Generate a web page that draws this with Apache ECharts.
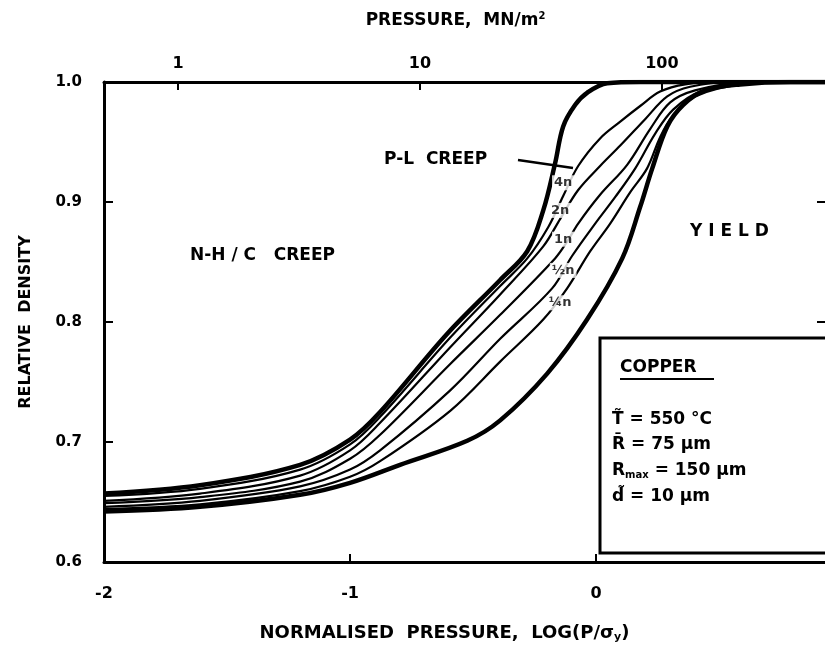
<!DOCTYPE html>
<html>
<head>
<meta charset="utf-8">
<script src="https://cdn.jsdelivr.net/npm/echarts@6/dist/echarts.min.js"></script>
<style>
html,body{margin:0;padding:0;background:#fff;}
#chart{width:825px;height:648px;}
</style>
</head>
<body>
<div id="chart"></div>
<script>
// normalised pressure log(P/sigma_y) and relative density
var nhcX = [-2.0,-1.61,-1.203,-1.0,-0.878,-0.606,-0.39,-0.28,-0.215,-0.167,-0.134,-0.085,-0.037,0.045,0.179,0.93];
var nhcY = [0.657,0.664,0.681,0.702,0.725,0.790,0.835,0.859,0.893,0.932,0.963,0.981,0.991,0.999,1.0,1.0];

var pl4X = [-2.0,-1.61,-1.203,-1.0,-0.878,-0.593,-0.39,-0.28,-0.195,-0.134,-0.073,0.016,0.098,0.179,0.26,0.362,0.504,0.93];
var pl4Y = [0.655,0.661,0.677,0.698,0.721,0.787,0.830,0.853,0.879,0.905,0.930,0.953,0.967,0.980,0.992,0.998,1.0,1.0];

var pl2X = [-2.0,-1.61,-1.203,-1.0,-0.878,-0.593,-0.39,-0.215,-0.146,-0.073,0.016,0.098,0.199,0.289,0.382,0.545,0.93];
var pl2Y = [0.651,0.657,0.672,0.693,0.716,0.779,0.823,0.863,0.886,0.910,0.930,0.947,0.969,0.988,0.996,1.0,1.0];

var pl1X = [-2.0,-1.61,-1.203,-1.0,-0.878,-0.593,-0.39,-0.167,-0.118,-0.073,0.016,0.126,0.22,0.301,0.402,0.585,0.93];
var pl1Y = [0.649,0.654,0.667,0.686,0.706,0.765,0.806,0.853,0.867,0.882,0.906,0.931,0.961,0.983,0.993,0.999,1.0];

var plHalfX = [-2.0,-1.61,-1.203,-1.0,-0.878,-0.593,-0.39,-0.179,-0.098,-0.004,0.077,0.159,0.240,0.313,0.423,0.626,0.93];
var plHalfY = [0.646,0.651,0.663,0.677,0.693,0.743,0.786,0.828,0.855,0.882,0.904,0.928,0.957,0.977,0.992,0.999,1.0];

var plQuarterX = [-2.0,-1.61,-1.203,-1.0,-0.878,-0.593,-0.39,-0.215,-0.118,-0.024,0.057,0.138,0.207,0.260,0.309,0.402,0.585,0.748,0.93];
var plQuarterY = [0.644,0.648,0.659,0.671,0.684,0.726,0.767,0.802,0.828,0.859,0.882,0.908,0.928,0.954,0.971,0.988,0.998,1.0,1.0];

var yieldX = [-2.0,-1.61,-1.203,-1.0,-0.797,-0.524,-0.39,-0.199,-0.037,0.106,0.179,0.228,0.289,0.354,0.443,0.585,0.789,0.93];
var yieldY = [0.642,0.646,0.656,0.666,0.681,0.701,0.718,0.757,0.802,0.853,0.896,0.928,0.963,0.981,0.993,0.998,1.0,1.0];

// creep exponent labels sitting on the P-L curves
var curveNames = ['4n','2n','1n','½n','¼n'];
var curveLabelX = [-0.134,-0.146,-0.134,-0.134,-0.146];
var curveLabelY = [0.916,0.893,0.869,0.843,0.816];

var bottomTicks = [-2,-1,0];
var topTicks = [0,1,2];   // log10 of pressure in MN/m2
var densityTicks = [0.6,0.7,0.8,0.9,1.0];
var rightTicks = [0.8,0.9];

var font = '"DejaVu Sans", sans-serif';

function pairs(xs, ys) {
	var out = [];
	for (var i = 0; i < xs.length; i++) {
		out.push([xs[i], ys[i]]);
	}
	return out;
}

function curve(name, xs, ys, width) {
	return {
		name: name,
		type: 'line',
		data: pairs(xs, ys),
		showSymbol: false,
		smooth: 0.35,
		lineStyle: {color: '#000', width: width},
		z: 3
	};
}

var myChart = echarts.init(document.getElementById('chart'));

var option = {
	animation: false,
	backgroundColor: '#fff',
	grid: {left: 104, right: 0, top: 82, bottom: 75},
	xAxis: [
		{
			type: 'value',
			position: 'bottom',
			min: -2,
			max: 0.93,
			interval: 1,
			name: '{a|NORMALISED  PRESSURE,  LOG(P/σ}{s|y}{a|)}',
			nameLocation: 'middle',
			nameGap: 62,
			nameTextStyle: {
				padding: [0, 40, 0, 0],
				rich: {
					a: {fontFamily: font, fontWeight: 'bold', fontSize: 18, color: '#000'},
					s: {fontFamily: font, fontWeight: 'bold', fontSize: 11, color: '#000', padding: [8, 0, 0, 0]}
				}
			},
			axisLine: {show: true, onZero: false, lineStyle: {color: '#000', width: 3}},
			axisTick: {show: true, inside: true, length: 8, lineStyle: {color: '#000', width: 2}, customValues: bottomTicks},
			axisLabel: {
				customValues: bottomTicks,
				margin: 24,
				fontFamily: font, fontWeight: 'bold', fontSize: 16, color: '#000',
				formatter: function (v) {
					if (Math.abs(v - Math.round(v)) > 1e-6) return '';
					return String(Math.round(v));
				}
			},
			splitLine: {show: false}
		},
		{
			type: 'value',
			position: 'top',
			min: -0.306,
			max: 2.674,
			name: '{a|PRESSURE,  MN/m}{p|2}',
			nameLocation: 'middle',
			nameGap: 52,
			nameTextStyle: {
				padding: [0, 18, 0, 0],
				rich: {
					a: {fontFamily: font, fontWeight: 'bold', fontSize: 17, color: '#000'},
					p: {fontFamily: font, fontWeight: 'bold', fontSize: 10, color: '#000', padding: [0, 0, 9, 0]}
				}
			},
			axisLine: {show: true, onZero: false, lineStyle: {color: '#000', width: 3}},
			axisTick: {show: true, inside: true, length: 8, lineStyle: {color: '#000', width: 2}, customValues: topTicks},
			axisLabel: {
				customValues: topTicks,
				margin: 10,
				fontFamily: font, fontWeight: 'bold', fontSize: 16, color: '#000',
				formatter: function (v) {
					if (Math.abs(v - Math.round(v)) > 1e-6) return '';
					return String(Math.pow(10, Math.round(v)));
				}
			},
			splitLine: {show: false}
		}
	],
	yAxis: [
		{
			type: 'value',
			min: 0.6,
			max: 1.0,
			interval: 0.1,
			name: 'RELATIVE  DENSITY',
			nameLocation: 'middle',
			nameGap: 70,
			nameRotate: 90,
			nameTextStyle: {fontFamily: font, fontWeight: 'bold', fontSize: 16, color: '#000'},
			axisLine: {show: true, onZero: false, lineStyle: {color: '#000', width: 3}},
			axisTick: {show: true, inside: true, length: 9, lineStyle: {color: '#000', width: 2}, customValues: densityTicks},
			axisLabel: {
				customValues: densityTicks,
				margin: 22,
				fontFamily: font, fontWeight: 'bold', fontSize: 15, color: '#000',
				formatter: function (v) { return v.toFixed(1); }
			},
			splitLine: {show: false}
		},
		{
			type: 'value',
			position: 'right',
			min: 0.6,
			max: 1.0,
			axisLine: {show: false, onZero: false},
			axisTick: {show: true, inside: true, length: 8, lineStyle: {color: '#000', width: 2}, customValues: rightTicks},
			axisLabel: {show: false},
			splitLine: {show: false}
		}
	],
	series: [
		curve('N-H/C creep', nhcX, nhcY, 4.5),
		curve('4n', pl4X, pl4Y, 2.2),
		curve('2n', pl2X, pl2Y, 2.2),
		curve('1n', pl1X, pl1Y, 2.2),
		curve('½n', plHalfX, plHalfY, 2.2),
		curve('¼n', plQuarterX, plQuarterY, 2.2),
		curve('yield', yieldX, yieldY, 4.5),
		{
			name: 'labels',
			type: 'scatter',
			z: 10,
			symbolSize: 2,
			itemStyle: {color: 'rgba(0,0,0,0)'},
			data: curveNames.map(function (n, i) {
				return {name: n, value: [curveLabelX[i], curveLabelY[i]]};
			}),
			label: {
				show: true,
				position: 'inside',
				formatter: '{b}',
				backgroundColor: '#fff',
				padding: [1, 2],
				fontFamily: font, fontWeight: 'bold', fontSize: 13, color: '#000'
			},
			labelLayout: {hideOverlap: false}
		}
	],
	graphic: [
		{type: 'text', x: 384, y: 160, z: 20, style: {text: 'P-L  CREEP', font: 'bold 17px ' + font, fill: '#000', verticalAlign: 'middle'}},
		{type: 'line', z: 20, shape: {x1: 518, y1: 160, x2: 573, y2: 168}, style: {stroke: '#000', lineWidth: 2.5}},
		{type: 'text', x: 190, y: 256, z: 20, style: {text: 'N-H / C   CREEP', font: 'bold 17px ' + font, fill: '#000', verticalAlign: 'middle'}},
		{type: 'text', x: 690, y: 232, z: 20, style: {text: 'Y I E L D', font: 'bold 17px ' + font, fill: '#000', verticalAlign: 'middle'}},
		{type: 'rect', z: 30, shape: {x: 600, y: 338, width: 240, height: 215}, style: {fill: '#fff', stroke: '#000', lineWidth: 3}},
		{type: 'text', x: 620, y: 368, z: 31, style: {text: 'COPPER', font: 'bold 17px ' + font, fill: '#000', verticalAlign: 'middle'}},
		{type: 'line', z: 31, shape: {x1: 620, y1: 379, x2: 714, y2: 379}, style: {stroke: '#000', lineWidth: 2}},
		{type: 'text', x: 612, y: 420, z: 31, style: {text: 'T\u0303 = 550 °C', font: 'bold 17px ' + font, fill: '#000', verticalAlign: 'middle'}},
		{type: 'text', x: 612, y: 445, z: 31, style: {text: 'R\u0304 = 75 μm', font: 'bold 17px ' + font, fill: '#000', verticalAlign: 'middle'}},
		{type: 'text', x: 612, y: 471, z: 31, style: {
			text: '{a|R}{s|max}{a| = 150 μm}',
			verticalAlign: 'middle',
			rich: {
				a: {fontFamily: font, fontWeight: 'bold', fontSize: 17, fill: '#000'},
				s: {fontFamily: font, fontWeight: 'bold', fontSize: 10, fill: '#000', padding: [8, 0, 0, 0]}
			}
		}},
		{type: 'text', x: 612, y: 497, z: 31, style: {text: 'd\u0303 = 10 μm', font: 'bold 17px ' + font, fill: '#000', verticalAlign: 'middle'}}
	]
};

myChart.setOption(option);
</script>
</body>
</html>
